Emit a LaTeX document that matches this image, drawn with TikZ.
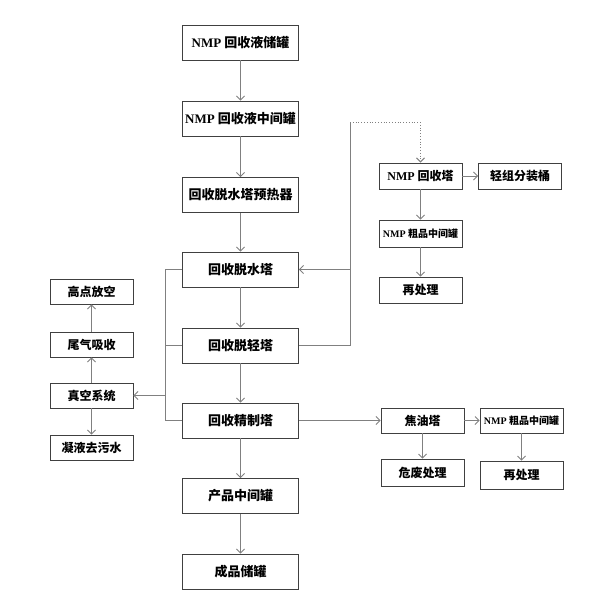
\documentclass[tikz,border=0pt]{standalone}
\usepackage{fontspec}
\setmainfont{Liberation Serif}
\newfontfamily\cjk{Noto Sans CJK SC}
\usetikzlibrary{arrows.meta}
\newcommand\nmp{{\rmfamily\bfseries NMP}}
\begin{document}
\begin{tikzpicture}[x=1pt,y=-1pt,
  box/.style={draw=black!75,line width=0.9pt,fill=white,inner sep=0pt,font=\cjk\bfseries},
  mainbox/.style={box,minimum width=116pt,minimum height=35pt,font=\cjk\bfseries\fontsize{13}{13}\selectfont},
  sidebox/.style={box,minimum width=83pt,minimum height=25pt,font=\cjk\bfseries\fontsize{12}{12}\selectfont},
  smallbox/.style={box,minimum width=83pt,minimum height=26pt,font=\cjk\bfseries\fontsize{10}{10}\selectfont},
  conn/.style={draw=black!50,line width=0.8pt},
  arr/.style={conn,-{Straight Barb[length=4pt,width=8pt]}}]
\useasboundingbox (0,0) rectangle (604,597);
% main column
\node[mainbox] (m1) at (240.5,42.5) {\nmp\ 回收液储罐};
\node[mainbox] (m2) at (240.5,118.5) {\nmp\ 回收液中间罐};
\node[mainbox] (m3) at (240.5,195) {回收脱水塔预热器};
\node[mainbox] (m4) at (240.5,269.5) {回收脱水塔};
\node[mainbox] (m5) at (240.5,345.5) {回收脱轻塔};
\node[mainbox] (m6) at (240.5,420.5) {回收精制塔};
\node[mainbox] (m7) at (240.5,496) {产品中间罐};
\node[mainbox] (m8) at (240.5,571.5) {成品储罐};
% left column
\node[sidebox] (l1) at (91.5,291.5) {高点放空};
\node[sidebox] (l2) at (91.5,344.5) {尾气吸收};
\node[sidebox] (l3) at (91.5,395.5) {真空系统};
\node[sidebox] (l4) at (91.5,447.5) {凝液去污水};
% right upper
\node[sidebox,minimum height=26pt] (r1) at (420.5,176) {\nmp\ 回收塔};
\node[sidebox,minimum height=26pt] (r2) at (520,176) {轻组分装桶};
\node[smallbox,minimum height=27pt] (r3) at (420.5,233.5) {\nmp\ 粗品中间罐};
\node[sidebox,minimum height=26pt] (r4) at (420.5,290) {再处理};
% right lower
\node[sidebox] (t1) at (422.5,420.5) {焦油塔};
\node[smallbox,minimum height=25pt] (t2) at (521.5,420.5) {\nmp\ 粗品中间罐};
\node[sidebox,minimum height=27pt] (t3) at (422.5,472.5) {危废处理};
\node[sidebox,minimum height=28pt] (t4) at (521.5,475) {再处理};
% coordinates
\coordinate (b1) at (165,269.5);
\coordinate (b2) at (165,345.5);
\coordinate (b3) at (165,420.5);
\coordinate (bv) at (165,395.5);
\coordinate (c1) at (350,345.5);
\coordinate (c2) at (350,122);
\coordinate (c3) at (420.5,122);
\coordinate (c4) at (350,269.5);
% main arrows
\draw[arr] (m1) -- (m2);
\draw[arr] (m2) -- (m3);
\draw[arr] (m3) -- (m4);
\draw[arr] (m4) -- (m5);
\draw[arr] (m5) -- (m6);
\draw[arr] (m6) -- (m7);
\draw[arr] (m7) -- (m8);
% bracket to vacuum
\draw[conn] (m4.west) -- (b1) -- (b3) -- (m6.west);
\draw[conn] (m5.west) -- (b2);
\draw[arr] (bv) -- (l3.east);
\draw[arr] (l3) -- (l2);
\draw[arr] (l2) -- (l1);
\draw[arr] (l3) -- (l4);
% right loop
\draw[conn] (m5.east) -- (c1) -- (c2);
\draw[conn,dotted,line width=1pt] (c2) -- (c3);
\draw[arr,dotted,line width=1pt] (c3) -- (r1.north);
\draw[arr] (c4) -- (m4.east);
\draw[arr] (r1) -- (r2);
\draw[arr] (r1) -- (r3);
\draw[arr] (r3) -- (r4);
% lower right
\draw[arr] (m6.east) -- (t1.west);
\draw[arr] (t1) -- (t2);
\draw[arr] (t1) -- (t3);
\draw[arr] (t2) -- (t4);
\end{tikzpicture}
\end{document}
